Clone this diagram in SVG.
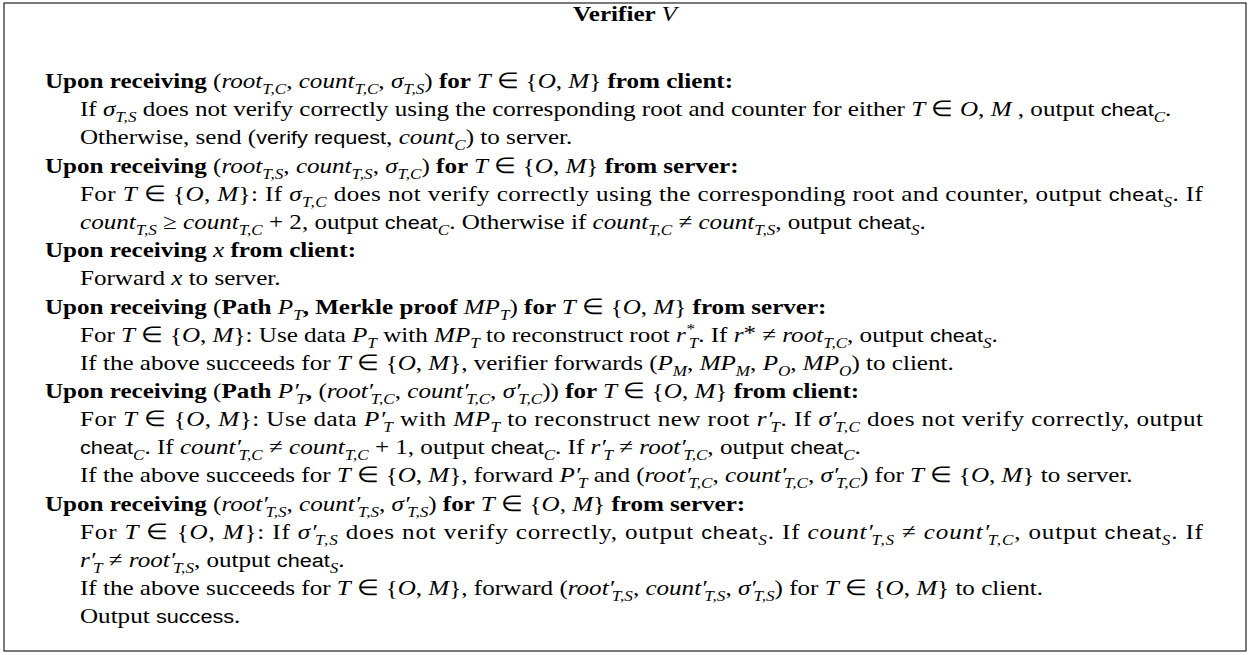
<svg xmlns="http://www.w3.org/2000/svg" width="1250" height="655" viewBox="0 0 1250 655">
<style>
.t{font-family:"Liberation Serif","Times New Roman",serif;font-size:22px;fill:#000}
.b{font-weight:bold}
.i{font-style:italic;font-weight:normal}
.n{font-weight:normal}
.sf{font-family:"Liberation Sans",Arial,sans-serif;font-size:19px;font-weight:normal}
.s{font-size:15px;font-style:italic;font-weight:normal}
</style>
<rect x="4" y="3" width="1242" height="648" fill="#fff" stroke="#222" stroke-width="1.2"/>
<g transform="scale(1.14,1)">
<g id="title"><text class="t b" x="548.2" y="21" text-anchor="middle">Verifier <tspan class="i">V</tspan></text></g>

<g id="block1">
<text class="t b" x="39.5" y="88">Upon receiving <tspan class="n">(</tspan><tspan class="i">root</tspan><tspan class="s" dy="6">T,C</tspan><tspan class="n" dy="-6">, </tspan><tspan class="i">count</tspan><tspan class="s" dy="6">T,C</tspan><tspan class="n" dy="-6">, </tspan><tspan class="i">σ</tspan><tspan class="s" dy="6">T,S</tspan><tspan class="n" dy="-6">)</tspan> for <tspan class="i">T</tspan><tspan class="n"> ∈ {</tspan><tspan class="i">O</tspan><tspan class="n">, </tspan><tspan class="i">M</tspan><tspan class="n">}</tspan> from client:</text>
<text class="t" x="70.2" y="116">If <tspan class="i">σ</tspan><tspan class="s" dy="6">T,S</tspan><tspan dy="-6"> does not verify correctly using the corresponding root and counter for either </tspan><tspan class="i">T</tspan> ∈ <tspan class="i">O</tspan>, <tspan class="i">M</tspan> , output <tspan class="sf">cheat</tspan><tspan class="s" dy="6">C</tspan><tspan dy="-6">.</tspan></text>
<text class="t" x="70.2" y="144">Otherwise, send (<tspan class="sf">verify request</tspan>, <tspan class="i">count</tspan><tspan class="s" dy="6">C</tspan><tspan dy="-6">) to server.</tspan></text>
</g>

<g id="block2">
<text class="t b" x="39.5" y="173">Upon receiving <tspan class="n">(</tspan><tspan class="i">root</tspan><tspan class="s" dy="6">T,S</tspan><tspan class="n" dy="-6">, </tspan><tspan class="i">count</tspan><tspan class="s" dy="6">T,S</tspan><tspan class="n" dy="-6">, </tspan><tspan class="i">σ</tspan><tspan class="s" dy="6">T,C</tspan><tspan class="n" dy="-6">)</tspan> for <tspan class="i">T</tspan><tspan class="n"> ∈ {</tspan><tspan class="i">O</tspan><tspan class="n">, </tspan><tspan class="i">M</tspan><tspan class="n">}</tspan> from server:</text>
<text class="t" x="70.2" y="201" textLength="985" lengthAdjust="spacing">For <tspan class="i">T</tspan> ∈ {<tspan class="i">O</tspan>, <tspan class="i">M</tspan>}: If <tspan class="i">σ</tspan><tspan class="s" dy="6">T,C</tspan><tspan dy="-6"> does not verify correctly using the corresponding root and counter, output </tspan><tspan class="sf">cheat</tspan><tspan class="s" dy="6">S</tspan><tspan dy="-6">. If</tspan></text>
<text class="t" x="70.2" y="229"><tspan class="i">count</tspan><tspan class="s" dy="6">T,S</tspan><tspan dy="-6"> ≥ </tspan><tspan class="i">count</tspan><tspan class="s" dy="6">T,C</tspan><tspan dy="-6"> + 2, output </tspan><tspan class="sf">cheat</tspan><tspan class="s" dy="6">C</tspan><tspan dy="-6">. Otherwise if </tspan><tspan class="i">count</tspan><tspan class="s" dy="6">T,C</tspan><tspan dy="-6"> ≠ </tspan><tspan class="i">count</tspan><tspan class="s" dy="6">T,S</tspan><tspan dy="-6">, output </tspan><tspan class="sf">cheat</tspan><tspan class="s" dy="6">S</tspan><tspan dy="-6">.</tspan></text>
</g>

<g id="block3">
<text class="t b" x="39.5" y="257">Upon receiving <tspan class="i">x</tspan> from client:</text>
<text class="t" x="70.2" y="285">Forward <tspan class="i">x</tspan> to server.</text>
</g>

<g id="block4">
<text class="t b" x="39.5" y="314">Upon receiving <tspan class="n">(</tspan>Path <tspan class="i">P</tspan><tspan class="s" dy="6">T</tspan><tspan dy="-6">,  Merkle proof </tspan><tspan class="i">MP</tspan><tspan class="s" dy="6">T</tspan><tspan class="n" dy="-6">)</tspan> for <tspan class="i">T</tspan><tspan class="n"> ∈ {</tspan><tspan class="i">O</tspan><tspan class="n">, </tspan><tspan class="i">M</tspan><tspan class="n">}</tspan> from server:</text>
<text class="t" x="70.2" y="342">For <tspan class="i">T</tspan> ∈ {<tspan class="i">O</tspan>, <tspan class="i">M</tspan>}: Use data <tspan class="i">P</tspan><tspan class="s" dy="6">T</tspan><tspan dy="-6"> with </tspan><tspan class="i">MP</tspan><tspan class="s" dy="6">T</tspan><tspan dy="-6"> to reconstruct root </tspan><tspan class="i">r</tspan><tspan class="s" dy="-8">*</tspan><tspan class="s" dx="-5" dy="14">T</tspan><tspan dy="-6">. If </tspan><tspan class="i">r</tspan><tspan dy="-2">*</tspan><tspan dy="2"> ≠ </tspan><tspan class="i">root</tspan><tspan class="s" dy="6">T,C</tspan><tspan dy="-6">, output </tspan><tspan class="sf">cheat</tspan><tspan class="s" dy="6">S</tspan><tspan dy="-6">.</tspan></text>
<text class="t" x="70.2" y="370">If the above succeeds for <tspan class="i">T</tspan> ∈ {<tspan class="i">O</tspan>, <tspan class="i">M</tspan>}, verifier forwards (<tspan class="i">P</tspan><tspan class="s" dy="6">M</tspan><tspan dy="-6">, </tspan><tspan class="i">MP</tspan><tspan class="s" dy="6">M</tspan><tspan dy="-6">, </tspan><tspan class="i">P</tspan><tspan class="s" dy="6">O</tspan><tspan dy="-6">, </tspan><tspan class="i">MP</tspan><tspan class="s" dy="6">O</tspan><tspan dy="-6">) to client.</tspan></text>
</g>

<g id="block5">
<text class="t b" x="39.5" y="398">Upon receiving <tspan class="n">(</tspan>Path <tspan class="i">P′</tspan><tspan class="s" dx="-2" dy="6">T</tspan><tspan dy="-6">, </tspan><tspan class="n">(</tspan><tspan class="i">root′</tspan><tspan class="s" dx="-2" dy="6">T,C</tspan><tspan class="n" dy="-6">, </tspan><tspan class="i">count′</tspan><tspan class="s" dx="-2" dy="6">T,C</tspan><tspan class="n" dy="-6">, </tspan><tspan class="i">σ′</tspan><tspan class="s" dx="-2" dy="6">T,C</tspan><tspan class="n" dy="-6">))</tspan> for <tspan class="i">T</tspan><tspan class="n"> ∈ {</tspan><tspan class="i">O</tspan><tspan class="n">, </tspan><tspan class="i">M</tspan><tspan class="n">}</tspan> from client:</text>
<text class="t" x="70.2" y="426" textLength="985" lengthAdjust="spacing">For <tspan class="i">T</tspan> ∈ {<tspan class="i">O</tspan>, <tspan class="i">M</tspan>}: Use data <tspan class="i">P′</tspan><tspan class="s" dx="-2" dy="6">T</tspan><tspan dy="-6"> with </tspan><tspan class="i">MP</tspan><tspan class="s" dy="6">T</tspan><tspan dy="-6"> to reconstruct new root </tspan><tspan class="i">r′</tspan><tspan class="s" dx="-2" dy="6">T</tspan><tspan dy="-6">. If </tspan><tspan class="i">σ′</tspan><tspan class="s" dx="-2" dy="6">T,C</tspan><tspan dy="-6"> does not verify correctly, output</tspan></text>
<text class="t" x="70.2" y="454"><tspan class="sf">cheat</tspan><tspan class="s" dy="6">C</tspan><tspan dy="-6">. If </tspan><tspan class="i">count′</tspan><tspan class="s" dx="-2" dy="6">T,C</tspan><tspan dy="-6"> ≠ </tspan><tspan class="i">count</tspan><tspan class="s" dy="6">T,C</tspan><tspan dy="-6"> + 1, output </tspan><tspan class="sf">cheat</tspan><tspan class="s" dy="6">C</tspan><tspan dy="-6">. If </tspan><tspan class="i">r′</tspan><tspan class="s" dx="-2" dy="6">T</tspan><tspan dy="-6"> ≠ </tspan><tspan class="i">root′</tspan><tspan class="s" dx="-2" dy="6">T,C</tspan><tspan dy="-6">, output </tspan><tspan class="sf">cheat</tspan><tspan class="s" dy="6">C</tspan><tspan dy="-6">.</tspan></text>
<text class="t" x="70.2" y="482">If the above succeeds for <tspan class="i">T</tspan> ∈ {<tspan class="i">O</tspan>, <tspan class="i">M</tspan>}, forward <tspan class="i">P′</tspan><tspan class="s" dx="-2" dy="6">T</tspan><tspan dy="-6"> and (</tspan><tspan class="i">root′</tspan><tspan class="s" dx="-2" dy="6">T,C</tspan><tspan dy="-6">, </tspan><tspan class="i">count′</tspan><tspan class="s" dx="-2" dy="6">T,C</tspan><tspan dy="-6">, </tspan><tspan class="i">σ′</tspan><tspan class="s" dx="-2" dy="6">T,C</tspan><tspan dy="-6">) for </tspan><tspan class="i">T</tspan> ∈ {<tspan class="i">O</tspan>, <tspan class="i">M</tspan>} to server.</text>
</g>

<g id="block6">
<text class="t b" x="39.5" y="511">Upon receiving <tspan class="n">(</tspan><tspan class="i">root′</tspan><tspan class="s" dx="-2" dy="6">T,S</tspan><tspan class="n" dy="-6">, </tspan><tspan class="i">count′</tspan><tspan class="s" dx="-2" dy="6">T,S</tspan><tspan class="n" dy="-6">, </tspan><tspan class="i">σ′</tspan><tspan class="s" dx="-2" dy="6">T,S</tspan><tspan class="n" dy="-6">)</tspan> for <tspan class="i">T</tspan><tspan class="n"> ∈ {</tspan><tspan class="i">O</tspan><tspan class="n">, </tspan><tspan class="i">M</tspan><tspan class="n">}</tspan> from server:</text>
<text class="t" x="70.2" y="539" textLength="985" lengthAdjust="spacing">For <tspan class="i">T</tspan> ∈ {<tspan class="i">O</tspan>, <tspan class="i">M</tspan>}: If <tspan class="i">σ′</tspan><tspan class="s" dx="-2" dy="6">T,S</tspan><tspan dy="-6"> does not verify correctly, output </tspan><tspan class="sf">cheat</tspan><tspan class="s" dy="6">S</tspan><tspan dy="-6">. If </tspan><tspan class="i">count′</tspan><tspan class="s" dx="-2" dy="6">T,S</tspan><tspan dy="-6"> ≠ </tspan><tspan class="i">count′</tspan><tspan class="s" dx="-2" dy="6">T,C</tspan><tspan dy="-6">, output </tspan><tspan class="sf">cheat</tspan><tspan class="s" dy="6">S</tspan><tspan dy="-6">. If</tspan></text>
<text class="t" x="70.2" y="567"><tspan class="i">r′</tspan><tspan class="s" dx="-2" dy="6">T</tspan><tspan dy="-6"> ≠ </tspan><tspan class="i">root′</tspan><tspan class="s" dx="-2" dy="6">T,S</tspan><tspan dy="-6">, output </tspan><tspan class="sf">cheat</tspan><tspan class="s" dy="6">S</tspan><tspan dy="-6">.</tspan></text>
<text class="t" x="70.2" y="595">If the above succeeds for <tspan class="i">T</tspan> ∈ {<tspan class="i">O</tspan>, <tspan class="i">M</tspan>}, forward (<tspan class="i">root′</tspan><tspan class="s" dx="-2" dy="6">T,S</tspan><tspan dy="-6">, </tspan><tspan class="i">count′</tspan><tspan class="s" dx="-2" dy="6">T,S</tspan><tspan dy="-6">, </tspan><tspan class="i">σ′</tspan><tspan class="s" dx="-2" dy="6">T,S</tspan><tspan dy="-6">) for </tspan><tspan class="i">T</tspan> ∈ {<tspan class="i">O</tspan>, <tspan class="i">M</tspan>} to client.</text>
<text class="t" x="70.2" y="623">Output <tspan class="sf">success</tspan>.</text>
</g>
</g>
</svg>
